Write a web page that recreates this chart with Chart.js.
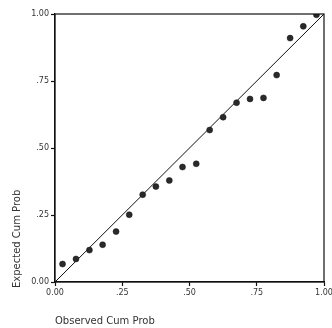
<!DOCTYPE html>
<html><head><meta charset="utf-8">
<script src="https://cdn.jsdelivr.net/npm/chart.js@4"></script>
<style>html,body{margin:0;padding:0;background:#fff;}canvas{display:block;}</style>
</head><body>
<canvas id="c" width="332" height="328"></canvas>
<script>
const observedCumProb = [0.028,0.078,0.128,0.177,0.227,0.276,0.326,0.375,0.425,0.474,0.525,0.575,0.625,0.675,0.725,0.775,0.824,0.874,0.923,0.972];
const expectedCumProb = [0.067,0.086,0.119,0.139,0.188,0.251,0.326,0.356,0.379,0.429,0.441,0.567,0.615,0.669,0.683,0.687,0.772,0.910,0.954,0.997];
const refLineX = [0, 1];
const refLineY = [0, 1];
const tickValues = [0, 0.25, 0.5, 0.75, 1];
const tickLabels = ['0.00', '.25', '.50', '.75', '1.00'];
const xTitle = 'Observed Cum Prob';
const yTitle = 'Expected Cum Prob';

const fmt = v => { const i = tickValues.findIndex(t => Math.abs(t - v) < 1e-9); return i >= 0 ? tickLabels[i] : ''; };

const boxPlugin = {
  id: 'box',
  afterDraw(chart) {
    const a = chart.chartArea, ctx = chart.ctx;
    ctx.save();
    ctx.strokeStyle = '#111';
    ctx.lineWidth = 1.2;
    ctx.strokeRect(a.left, a.top, a.right - a.left, a.bottom - a.top);
    // y axis title, start-aligned near the bottom
    ctx.fillStyle = '#333';
    ctx.font = '10px "DejaVu Sans"';
    ctx.translate(17, a.bottom + 6);
    ctx.rotate(-Math.PI / 2);
    ctx.textAlign = 'left';
    ctx.textBaseline = 'middle';
    ctx.fillText(yTitle, 0, 0);
    ctx.restore();
  }
};

new Chart(document.getElementById('c'), {
  type: 'scatter',
  data: {
    datasets: [
      {
        type: 'line',
        data: refLineX.map((x, i) => ({x, y: refLineY[i]})),
        borderColor: '#111', borderWidth: 1, pointRadius: 0, fill: false, order: 2
      },
      {
        data: observedCumProb.map((x, i) => ({x, y: expectedCumProb[i]})),
        backgroundColor: '#2a2a2a', borderColor: '#111', borderWidth: 0.5,
        pointRadius: 3, pointStyle: 'circle', order: 1
      }
    ]
  },
  options: {
    responsive: false, animation: false, devicePixelRatio: 1,
    layout: { padding: { top: 14, right: 8, left: 0, bottom: 0 } },
    plugins: { legend: { display: false }, tooltip: { enabled: false } },
    scales: {
      x: {
        type: 'linear', min: 0, max: 1,
        afterBuildTicks: s => { s.ticks = tickValues.map(v => ({value: v})); },
        afterFit: s => { s.height = 46; s.paddingRight = 0; s.paddingLeft = 0; },
        ticks: { callback: fmt, color: '#333', font: { family: 'DejaVu Sans', size: 8 }, padding: 2, maxRotation: 0 },
        grid: { display: true, drawOnChartArea: false, drawTicks: true, tickLength: 4, color: '#111', tickColor: '#111', tickWidth: 1.2 },
        border: { display: true, color: '#111', width: 1.2 },
        title: { display: true, text: xTitle, align: 'start', color: '#333', font: { family: 'DejaVu Sans', size: 10 }, padding: { top: 19, bottom: 1 } }
      },
      y: {
        type: 'linear', min: 0, max: 1,
        afterBuildTicks: s => { s.ticks = tickValues.map(v => ({value: v})); },
        afterFit: s => { s.width = 55; s.paddingTop = 0; s.paddingBottom = 0; },
        ticks: { callback: fmt, color: '#333', font: { family: 'DejaVu Sans', size: 8 }, padding: 2 },
        grid: { display: true, drawOnChartArea: false, drawTicks: true, tickLength: 4, color: '#111', tickColor: '#111', tickWidth: 1.2 },
        border: { display: true, color: '#111', width: 1.2 },
        title: { display: false }
      }
    }
  },
  plugins: [boxPlugin]
});
</script>
</body></html>
